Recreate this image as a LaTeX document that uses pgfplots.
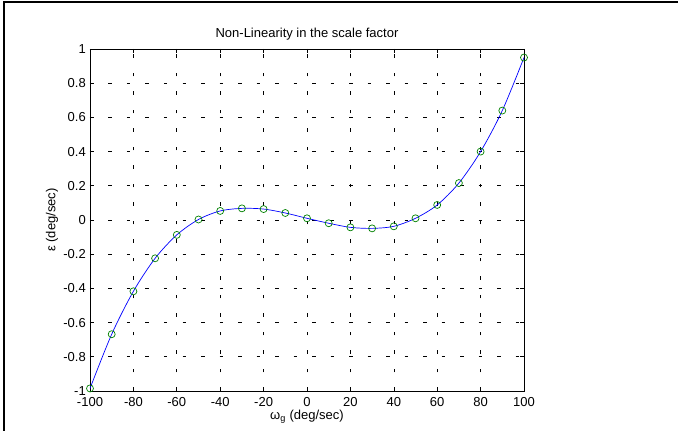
\documentclass[border=0pt]{standalone}
\usepackage{pgfplots}
\pgfplotsset{compat=1.18}
\usepackage{fontspec}
\setmainfont{Liberation Sans}
\newcommand\ff{\fontsize{13bp}{15bp}\selectfont}
\begin{document}
\ff
\begin{tikzpicture}
\begin{axis}[
  scale only axis,
  width=434bp, height=342bp,
  xmin=-100, xmax=100, ymin=-1, ymax=1,
  xtick={-100,-80,...,100},
  ytick={-1,-0.8,...,1.01},
  yticklabels={-1,-0.8,-0.6,-0.4,-0.2,0,0.2,0.4,0.6,0.8,1},
  xticklabels={-100,-80,-60,-40,-20,0,20,40,60,80,100},
  tick align=inside,
  major tick length=4bp,
  tick style={black, line width=0.6bp},
  axis line style={black, line width=0.9bp},
  grid=major,
  major grid style={black, line width=0.6bp, dash pattern=on 3.5bp off 15bp},
  title={Non-Linearity in the scale factor},
  xlabel={ω\textsubscript{g} (deg/sec)},
  ylabel={ε (deg/sec)},
  every axis title/.style={at={(rel axis cs:0.5,1.035)}, anchor=base, font=\ff},
  every axis x label/.style={at={(rel axis cs:0.5,-0.0848)}, anchor=base, font=\ff},
  every axis y label/.style={at={(rel axis cs:-0.0876,0.5)}, rotate=90, anchor=center, font=\ff},
  xticklabel style={font=\ff, anchor=north, inner sep=0pt, yshift=-6bp},
  yticklabel style={font=\ff, anchor=east, inner sep=0pt, xshift=-4bp},
]
\coordinate (o) at (rel axis cs:0,0);
\addplot[blue, line width=0.7bp, smooth, tension=0.5] coordinates {
(-100,-0.985) (-90,-0.668) (-80,-0.417) (-70,-0.224) (-60,-0.087) (-50,0.003)
(-40,0.053) (-30,0.068) (-20,0.064) (-10,0.041) (0,0.01) (10,-0.019)
(20,-0.043) (30,-0.049) (40,-0.037) (50,0.01) (60,0.088) (70,0.216)
(80,0.40) (90,0.64) (100,0.95)};
\addplot[only marks, mark=o, mark size=3.5bp, color={rgb,1:red,0;green,0.5;blue,0}, line width=0.7bp] coordinates {
(-100,-0.985) (-90,-0.668) (-80,-0.417) (-70,-0.224) (-60,-0.087) (-50,0.003)
(-40,0.053) (-30,0.068) (-20,0.064) (-10,0.041) (0,0.01) (10,-0.019)
(20,-0.043) (30,-0.049) (40,-0.037) (50,0.01) (60,0.088) (70,0.216)
(80,0.40) (90,0.64) (100,0.95)};
\end{axis}
\path[use as bounding box] ([xshift=-90bp,yshift=-40bp]o) rectangle ([xshift=588bp,yshift=391bp]o);
\draw[line width=2bp] ([xshift=-86bp,yshift=-45bp]o) -- ([xshift=-86bp,yshift=389bp]o) -- ([xshift=600bp,yshift=389bp]o);
\end{tikzpicture}
\end{document}
